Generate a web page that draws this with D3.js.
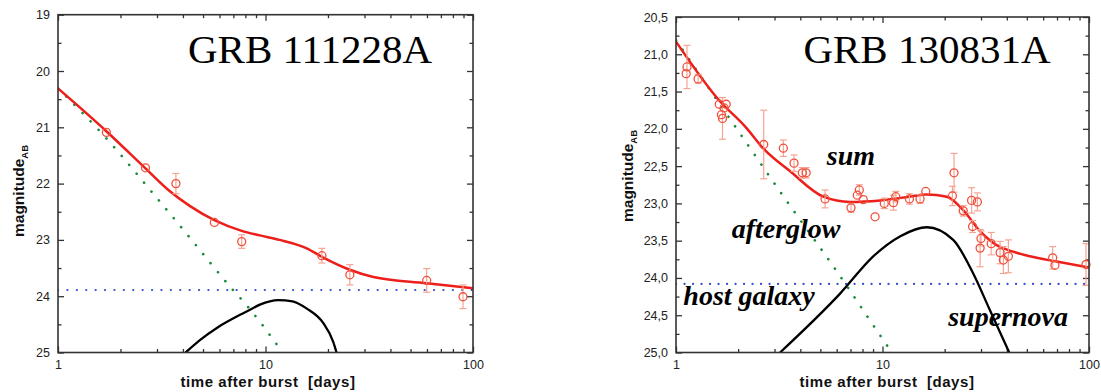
<!DOCTYPE html>
<html><head><meta charset="utf-8">
<script src="https://cdn.jsdelivr.net/npm/d3@7"></script>
<style>body{margin:0;background:#fff}svg{display:block}</style>
</head><body>
<svg id="c" width="1101" height="392"></svg>
<script>
// ---------- data ----------
const titles = ["GRB 111228A", "GRB 130831A"];
const xTickValues = [1, 10, 100];
const xMinorTicks = [2,3,4,5,6,7,8,9,20,30,40,50,60,70,80,90];
const yTicksA = [19,20,21,22,23,24,25];
const yMinorA = [19.5,20.5,21.5,22.5,23.5,24.5];
const yTicksB = [20.5,21,21.5,22,22.5,23,23.5,24,24.5,25];
const yMinorB = [20.75,21.25,21.75,22.25,22.75,23.25,23.75,24.25,24.75];
const xTitle = "time after burst  [days]";
const yTitle = "magnitude";
const ySub = "AB";

// GRB 111228A observations
const obsA_t = [1.71, 2.64, 3.70, 5.67, 7.68, 18.7, 25.5, 59.8, 89.5];
const obsA_m = [21.09, 21.72, 22.00, 22.69, 23.03, 23.28, 23.62, 23.72, 24.01];
const obsA_e = [0.03, 0.03, 0.18, 0.07, 0.12, 0.13, 0.18, 0.21, 0.21];
// GRB 111228A model curves
const sumA_t = [1, 1.71, 2.64, 3.39, 4.33, 5.67, 7.68, 9.4, 11.7, 15.8, 18.7, 25.5, 33.1, 59.8, 100];
const sumA_m = [20.31, 21.07, 21.73, 22.11, 22.40, 22.65, 22.84, 22.92, 23.00, 23.15, 23.30, 23.53, 23.66, 23.77, 23.86];
const aglA_t = [1, 1.62, 2.91, 4.5, 6.75, 8.11, 12.1];
const aglA_m = [20.31, 21.10, 22.20, 23.04, 23.83, 24.16, 25.0];
const snA_t = [4.12, 4.83, 5.9, 7.54, 8.42, 9.4, 10.5, 11.5, 13.5, 15.8, 19.0, 21.2, 22.0];
const snA_m = [25.0, 24.78, 24.55, 24.33, 24.24, 24.15, 24.09, 24.07, 24.09, 24.22, 24.48, 24.81, 25.0];
const hostA = 23.89;

// GRB 130831A observations
const obsB_t = [1.12, 1.13, 1.28, 1.62, 1.66, 1.68, 1.71, 1.75, 2.66, 3.31, 3.73, 4.09, 4.27, 5.27, 7.04, 7.55, 7.72, 8.07, 9.2, 10.2, 11.3, 11.6, 13.5, 15.2, 16.2, 21.8, 22.2, 24.6, 27.0, 27.3, 28.8, 30.0, 29.7, 33.6, 37.1, 38.5, 40.7, 66.7, 68.4, 96.7];
const obsB_m = [21.26, 21.17, 21.33, 21.67, 21.81, 21.86, 21.72, 21.67, 22.21, 22.26, 22.46, 22.59, 22.59, 22.94, 23.06, 22.89, 22.82, 22.95, 23.18, 23.00, 22.99, 22.91, 22.94, 22.94, 22.84, 22.90, 22.59, 23.10, 22.96, 23.31, 22.98, 23.47, 23.60, 23.54, 23.66, 23.76, 23.71, 23.73, 23.83, 23.82];
const obsB_e = [0.05, 0.29, 0.06, 0.05, 0.05, 0.28, 0.05, 0.04, 0.46, 0.11, 0.11, 0.07, 0.07, 0.12, 0.06, 0.05, 0.07, 0.05, 0.03, 0.07, 0.10, 0.07, 0.07, 0.06, 0.05, 0.13, 0.26, 0.07, 0.17, 0.08, 0.12, 0.10, 0.25, 0.15, 0.15, 0.18, 0.22, 0.15, 0.05, 0.28];
// GRB 130831A model curves
const sumB_t = [1, 1.62, 2.18, 2.66, 3.57, 5.17, 6.96, 9.73, 13.5, 16.3, 20.5, 24.6, 29.6, 35.7, 39.2, 51.8, 69.7, 100];
const sumB_m = [20.83, 21.62, 21.98, 22.27, 22.57, 22.91, 22.98, 22.96, 22.91, 22.88, 22.91, 23.09, 23.37, 23.56, 23.61, 23.71, 23.78, 23.86];
const aglB_t = [1, 1.97, 3.19, 6.58, 8.7, 11.1];
const aglB_m = [20.81, 22.0, 22.84, 24.07, 24.57, 25.0];
const snB_t = [3.19, 6.23, 9.02, 12.2, 16.4, 22.0, 27.5, 33.1, 41.1];
const snB_m = [25.0, 24.21, 23.71, 23.44, 23.32, 23.49, 23.94, 24.43, 25.0];
const hostB = 24.08;

// annotation labels (right panel): text, time and magnitude of the baseline start
const labelsB = ["sum", "afterglow", "host galaxy", "supernova"];
const labelsB_t = [5.37, 1.86, 1.085, 20.8];
const labelsB_m = [22.48, 23.47, 24.36, 24.65];

// ---------- drawing ----------
const svg = d3.select("#c");
const AX = "#333";
const tickFont = "'Liberation Sans', Arial, sans-serif";

function panel(cfg, idx) {
  const x = d3.scaleLog().domain([1, 100]).range([cfg.x0, cfg.x1]);
  const y = d3.scaleLinear().domain(cfg.yDomain).range([cfg.y0, cfg.y1]);
  const g = svg.append("g");
  const clipId = "clip" + idx;
  g.append("clipPath").attr("id", clipId).append("rect")
    .attr("x", cfg.x0).attr("y", cfg.y0).attr("width", cfg.x1 - cfg.x0).attr("height", cfg.y1 - cfg.y0);

  function styleAxis(sel) {
    sel.select(".domain").remove();
    sel.selectAll("line").attr("stroke", AX).attr("stroke-width", 1.3);
    sel.selectAll("text").attr("fill", "#222");
    sel.attr("font-family", tickFont).attr("font-size", 12.5);
  }
  const fmtX = d => String(d);
  g.append("g").attr("transform", `translate(0,${cfg.y1})`)
    .call(d3.axisBottom(x).tickValues(xTickValues).tickFormat(fmtX).tickSize(-6).tickSizeOuter(0).tickPadding(7.5)).call(styleAxis);
  g.append("g").attr("transform", `translate(0,${cfg.y1})`)
    .call(d3.axisBottom(x).tickValues(xMinorTicks).tickFormat("").tickSize(-3.5).tickSizeOuter(0)).call(styleAxis);
  g.append("g").attr("transform", `translate(0,${cfg.y0})`)
    .call(d3.axisTop(x).tickValues(xTickValues).tickFormat("").tickSize(-6).tickSizeOuter(0)).call(styleAxis);
  g.append("g").attr("transform", `translate(0,${cfg.y0})`)
    .call(d3.axisTop(x).tickValues(xMinorTicks).tickFormat("").tickSize(-3.5).tickSizeOuter(0)).call(styleAxis);
  g.append("g").attr("transform", `translate(${cfg.x0},0)`)
    .call(d3.axisLeft(y).tickValues(cfg.yTicks).tickFormat(cfg.fmt).tickSize(-6).tickSizeOuter(0).tickPadding(8)).call(styleAxis);
  g.append("g").attr("transform", `translate(${cfg.x0},0)`)
    .call(d3.axisLeft(y).tickValues(cfg.yMinor).tickFormat("").tickSize(-3.5).tickSizeOuter(0)).call(styleAxis);
  g.append("g").attr("transform", `translate(${cfg.x1},0)`)
    .call(d3.axisRight(y).tickValues(cfg.yTicks).tickFormat("").tickSize(-6).tickSizeOuter(0)).call(styleAxis);
  g.append("g").attr("transform", `translate(${cfg.x1},0)`)
    .call(d3.axisRight(y).tickValues(cfg.yMinor).tickFormat("").tickSize(-3.5).tickSizeOuter(0)).call(styleAxis);

  const plot = g.append("g").attr("clip-path", `url(#${clipId})`);
  const line = d3.line().x(d => x(d[0])).y(d => y(d[1])).curve(d3.curveMonotoneX);

  plot.append("path").datum([[1, cfg.host], [100, cfg.host]]).attr("d", d3.line().x(d => x(d[0])).y(d => y(d[1])))
    .attr("fill", "none").attr("stroke", "#2f4fc8").attr("stroke-width", 2.2)
    .attr("stroke-dasharray", cfg.blueDash).attr("stroke-linecap", "round");
  plot.append("path").datum(d3.zip(cfg.aglT, cfg.aglM)).attr("d", line)
    .attr("fill", "none").attr("stroke", "#188a3c").attr("stroke-width", 2.6)
    .attr("stroke-dasharray", "0.1,11.5").attr("stroke-linecap", "round");
  plot.append("path").datum(d3.zip(cfg.snT, cfg.snM)).attr("d", line)
    .attr("fill", "none").attr("stroke", "#000").attr("stroke-width", 2.3);
  plot.append("path").datum(d3.zip(cfg.sumT, cfg.sumM)).attr("d", line)
    .attr("fill", "none").attr("stroke", "#ec1f1a").attr("stroke-width", 2.5);

  const obs = d3.zip(cfg.obsT, cfg.obsM, cfg.obsE);
  const eb = g.append("g").attr("stroke", "#f5a493").attr("stroke-width", 1.2);
  obs.forEach(d => {
    const cx = x(d[0]), top = y(d[1] - d[2]), bot = y(d[1] + d[2]);
    if (bot - top > 8) {
      eb.append("line").attr("x1", cx).attr("x2", cx).attr("y1", top).attr("y2", bot);
      eb.append("line").attr("x1", cx - 3.5).attr("x2", cx + 3.5).attr("y1", top).attr("y2", top);
      eb.append("line").attr("x1", cx - 3.5).attr("x2", cx + 3.5).attr("y1", bot).attr("y2", bot);
    }
  });
  g.append("g").selectAll("circle").data(obs).join("circle")
    .attr("cx", d => x(d[0])).attr("cy", d => y(d[1])).attr("r", 4)
    .attr("fill", "none").attr("stroke", "#f0503c").attr("stroke-width", 1.3);

  g.append("rect").attr("x", cfg.x0).attr("y", cfg.y0).attr("width", cfg.x1 - cfg.x0).attr("height", cfg.y1 - cfg.y0)
    .attr("fill", "none").attr("stroke", AX).attr("stroke-width", 1.6);

  g.append("text").attr("x", cfg.titleX).attr("y", 63).attr("text-anchor", "middle")
    .attr("font-family", "'Liberation Serif', 'Times New Roman', serif").attr("font-size", 41)
    .attr("fill", "#000").text(titles[idx]);

  g.append("text").attr("x", cfg.xTitleX).attr("y", 386.5).attr("text-anchor", "middle")
    .attr("font-family", tickFont).attr("font-weight", "bold").attr("font-size", 15)
    .attr("letter-spacing", 0.55)
    .style("white-space", "pre").attr("fill", "#111").text(xTitle);
  const yt = g.append("text").attr("transform", `translate(${cfg.yTitleX},${cfg.yTitleY}) rotate(-90)`)
    .attr("font-family", tickFont).attr("font-weight", "bold").attr("font-size", 15.5).attr("fill", "#111");
  yt.append("tspan").text(yTitle);
  yt.append("tspan").attr("dy", 4).attr("font-size", 9.5).text(ySub);

  return {x, y, g};
}

const fmtA = d3.format("d");
const fmtB = d => d3.format(".1f")(d).replace(".", ",");

panel({x0: 58, x1: 473, y0: 14.7, y1: 352.5, yDomain: [19, 25], yTicks: yTicksA, yMinor: yMinorA, fmt: fmtA,
  host: hostA, aglT: aglA_t, aglM: aglA_m, snT: snA_t, snM: snA_m, sumT: sumA_t, sumM: sumA_m,
  obsT: obsA_t, obsM: obsA_m, obsE: obsA_e, titleX: 310, xTitleX: 268, yTitleX: 24, yTitleY: 237, blueDash: "0.1,9.3"}, 0);

const pB = panel({x0: 676, x1: 1089, y0: 17, y1: 352.5, yDomain: [20.5, 25], yTicks: yTicksB, yMinor: yMinorB, fmt: fmtB,
  host: hostB, aglT: aglB_t, aglM: aglB_m, snT: snB_t, snM: snB_m, sumT: sumB_t, sumM: sumB_m,
  obsT: obsB_t, obsM: obsB_m, obsE: obsB_e, titleX: 927, xTitleX: 887, yTitleX: 633, yTitleY: 222, blueDash: "0.1,8.4"}, 1);

pB.g.append("g").selectAll("text").data(d3.zip(labelsB, labelsB_t, labelsB_m)).join("text")
  .attr("x", d => pB.x(d[1])).attr("y", d => pB.y(d[2]))
  .attr("font-family", "'Liberation Serif', 'Times New Roman', serif")
  .attr("font-style", "italic").attr("font-weight", "bold").attr("font-size", 28)
  .attr("fill", "#000").text(d => d[0]);
</script>
</body></html>
